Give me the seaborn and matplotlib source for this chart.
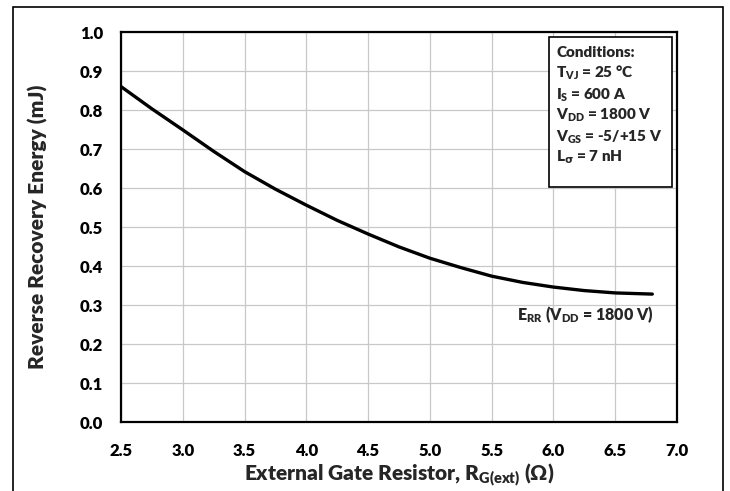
import numpy as np
import pandas as pd
import matplotlib
matplotlib.use("Agg")
import matplotlib.pyplot as plt
import seaborn as sns
from matplotlib.patches import Rectangle

# values
rg_ohm = [2.5, 2.75, 3.0, 3.25, 3.5, 3.75, 4.0, 4.25, 4.5, 4.75, 5.0, 5.25, 5.5, 5.75, 6.0, 6.25, 6.5, 6.8]
err_mj = [0.860, 0.803, 0.749, 0.694, 0.642, 0.597, 0.556, 0.517, 0.482, 0.449, 0.420, 0.396, 0.374, 0.358, 0.346, 0.337, 0.331, 0.328]
x_ticks = [2.5, 3.0, 3.5, 4.0, 4.5, 5.0, 5.5, 6.0, 6.5, 7.0]
y_ticks = [0.0, 0.1, 0.2, 0.3, 0.4, 0.5, 0.6, 0.7, 0.8, 0.9, 1.0]
conditions = [
    r"Conditions:",
    r"$\mathbf{T}_{\mathbf{VJ}}$ = 25 °C",
    r"$\mathbf{I}_{\mathbf{S}}$ = 600 A",
    r"$\mathbf{V}_{\mathbf{DD}}$ = 1800 V",
    r"$\mathbf{V}_{\mathbf{GS}}$ = -5/+15 V",
    r"$\mathbf{L}_{\sigma}$ = 7 nH",
]

df = pd.DataFrame({"rg": rg_ohm, "err": err_mj})

sns.set_theme(style="whitegrid")
W = "heavy"
plt.rcParams["font.family"] = ["Lato", "DejaVu Sans"]
plt.rcParams["font.weight"] = W
plt.rcParams["mathtext.fontset"] = "custom"
plt.rcParams["mathtext.bf"] = "Lato:heavy"
plt.rcParams["mathtext.rm"] = "Lato:heavy"
plt.rcParams["mathtext.it"] = "DejaVu Sans:bold"

fig = plt.figure(figsize=(7.3, 4.91), dpi=100)
ax = fig.add_axes([0.1658, 0.1405, 0.7616, 0.7943])

sns.lineplot(data=df, x="rg", y="err", ax=ax, color="black", linewidth=2.4)

ax.set_xlim(2.5, 7.0)
ax.set_ylim(0, 1.0)
ax.set_xticks(x_ticks)
ax.set_yticks(y_ticks)
ax.set_xticklabels([f"{v:.1f}" for v in x_ticks], fontsize=12, fontweight=W)
ax.set_yticklabels([f"{v:.1f}" for v in y_ticks], fontsize=12, fontweight=W)
ax.tick_params(axis="x", length=0, pad=15, colors="black")
ax.tick_params(axis="y", length=0, pad=13, colors="black")
ax.grid(True, color="#c8c8c8", linewidth=0.9)
ax.set_facecolor("white")
for s in ax.spines.values():
    s.set_visible(True)
    s.set_color("black")
    s.set_linewidth(1.6)

ax.set_xlabel(r"External Gate Resistor, R$_{\mathbf{G(ext)}}$ (Ω)", fontsize=15, fontweight=W,
              va="center")
ax.set_ylabel("Reverse Recovery Energy (mJ)", fontsize=15, fontweight=W, va="center")
ax.xaxis.set_label_coords(0.5, (422 - 475) / 390)
ax.yaxis.set_label_coords((38 - 121) / 556, 0.5)

ax.text(6.81, 0.274, r"E$_{\mathbf{RR}}$ (V$_{\mathbf{DD}}$ = 1800 V)", ha="right", va="center",
        fontsize=11.5, fontweight=W)

# conditions box
ax.add_patch(Rectangle((0.770, 0.603), 0.221, 0.384, transform=ax.transAxes,
                       facecolor="white", edgecolor="black", linewidth=1.2, zorder=5))
line_y = [52, 73, 95, 115, 137, 157]
for txt, yp in zip(conditions, line_y):
    ax.text((556 - 121) / 556, (422 - yp) / 390, txt, transform=ax.transAxes,
            ha="left", va="center", fontsize=11, fontweight=W, zorder=6)

# outer frame
fig.patches.append(Rectangle((13 / 730, -0.02), 710 / 730, (491 - 7) / 491 + 0.02,
                             transform=fig.transFigure, fill=False,
                             edgecolor="black", linewidth=1.2))

fig.savefig("out.png", dpi=100)
